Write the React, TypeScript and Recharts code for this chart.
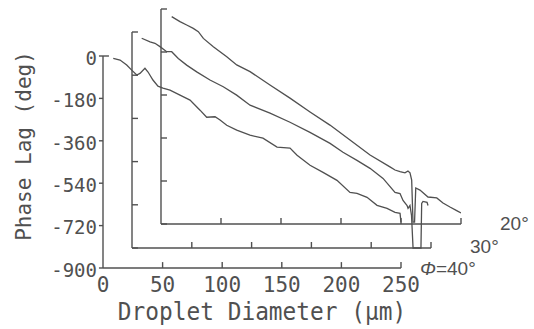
import { LineChart, Line, XAxis, YAxis, ReferenceLine } from "recharts"

const X_TICKS = [0, 50, 100, 150, 200, 250]
const Y_TICKS = [0, -180, -360, -540, -720, -900]

// phi = 40 deg (front panel)
const DIAM_40 = [8.6, 14.3, 19.9, 24.1, 28.3, 31.0, 35.2, 37.8, 41.9, 46.1, 50.3, 56.2, 64.6, 73.0, 81.4, 87.0, 94.0, 98.2, 103.8, 112.2, 123.3, 134.2, 146.0, 156.9, 162.8, 173.7, 184.6, 196.3, 207.2, 213.1, 221.5, 229.9, 238.3, 245.0, 249.2, 250]
const PHASE_40 = [-10, -17, -38, -60, -81, -74, -52, -68, -102, -128, -136, -145, -166, -187, -230, -260, -258, -272, -294, -315, -336, -349, -387, -391, -421, -464, -494, -528, -579, -583, -600, -634, -647, -664, -668, -706]

// phi = 30 deg (middle panel)
const DIAM_30 = [8.1, 15.1, 19.2, 23.4, 29.0, 33.2, 38.7, 45.7, 54.1, 65.2, 76.3, 87.5, 98.7, 115.4, 132.1, 148.8, 165.6, 176.4, 188.1, 199.0, 209.9, 219.9, 224.1, 226.6, 230.0, 230.8, 232.4, 233.7, 235.0, 241.6, 242.2, 243.3, 246.7, 247.5]
const PHASE_30 = [-26, -41, -47, -61, -82, -82, -110, -138, -166, -200, -228, -263, -305, -338, -376, -418, -464, -501, -535, -568, -610, -668, -673, -702, -723, -735, -723, -764, -900, -900, -714, -706, -710, -723]

// phi = 20 deg (back panel)
const DIAM_20 = [8.9, 15.8, 21.4, 26.9, 31.1, 35.3, 43.6, 54.8, 63.1, 74.2, 90.8, 107.5, 124.2, 140.8, 157.5, 174.2, 190.8, 195.0, 199.2, 203.3, 205.8, 207.5, 208.9, 210.0, 211.3, 212.3, 215.8, 222.5, 229.8, 235.0, 240.8, 246.4, 250]
const PHASE_20 = [-32, -53, -67, -81, -95, -123, -158, -200, -234, -262, -318, -373, -431, -486, -548, -611, -661, -674, -681, -686, -678, -686, -716, -892, -892, -749, -758, -787, -791, -812, -829, -844, -854]

const W = 534
const H = 329
const INK = "#505050"
const MONO = "DejaVu Sans Mono"
const SANS = "Liberation Sans"

const toRows = (d: number[], p: number[]) => d.map((v, i) => ({ d: v, phase: p[i] }))

// one shared plot box (x 103..461, y 9..268); each panel gets its own pair of
// axes whose domains are stretched so the panel's 0..250 / -900..0 frame lands
// at its staggered spot in the box. Front panel first so its visible axes sit
// right on the box edges.
const PANELS = [
  { id: "f", rows: toRows(DIAM_40, PHASE_40), xDomain: [0, 300.34], yDomain: [-900, 199.5] },
  { id: "m", rows: toRows(DIAM_30, PHASE_30), xDomain: [-24.25, 275.08], yDomain: [-983.33, 95.83] },
  { id: "b", rows: toRows(DIAM_20, PHASE_20), xDomain: [-48.33, 250], yDomain: [-1084.19, 0] },
]

const X_TICK_LEN = 25 // deg, ~6px upward
const Y_TICK_LEN = 5 // um, ~6px to the right
const FRONT_Y_TICK_LEN = 3.4 // um, ~4px to the left (outside)

// axis frame of a panel: the front one sits on the edge of the domain, so
// overflow has to stay visible or recharts drops the segments
function frame(id: string) {
  const seg = (key: string, x1: number, y1: number, x2: number, y2: number) => (
    <ReferenceLine
      key={`${id}-${key}`}
      xAxisId={id}
      yAxisId={id}
      segment={[{ x: x1, y: y1 }, { x: x2, y: y2 }]}
      ifOverflow="visible"
      stroke={INK}
      strokeWidth={1.4}
    />
  )
  const items = [seg("xa", 0, -900, 250, -900), seg("ya", 0, 0, 0, -900)]
  X_TICKS.filter((t) => t > 0).forEach((t) => items.push(seg(`xt${t}`, t, -900, t, -900 + X_TICK_LEN)))
  if (id === "f") {
    items.push(seg("yt0", 0, 0, Y_TICK_LEN, 0))
    Y_TICKS.forEach((t) => items.push(seg(`ytl${t}`, 0, t, -FRONT_Y_TICK_LEN, t)))
  } else {
    Y_TICKS.forEach((t) => items.push(seg(`yt${t}`, 0, t, Y_TICK_LEN, t)))
  }
  return items
}

const label = (style: React.CSSProperties, text: React.ReactNode) => (
  <div style={{ position: "absolute", whiteSpace: "nowrap", color: INK, ...style }}>{text}</div>
)

export default function App() {
  return (
    <div style={{ position: "absolute", left: 0, top: 0, width: W, height: H, background: "#fff" }}>
      <LineChart width={W} height={H} margin={{ top: 9, right: 73, bottom: 0, left: 0 }}>
        {PANELS.map((p) => (
          <XAxis
            key={`x-${p.id}`}
            xAxisId={p.id}
            type="number"
            dataKey="d"
            domain={p.xDomain}
            allowDataOverflow
            ticks={X_TICKS}
            hide={p.id !== "f"}
            height={p.id === "f" ? 61 : 0}
            axisLine={false}
            tickLine={false}
            tickSize={0}
            tickMargin={9}
            tick={{ fontFamily: MONO, fontSize: 21, fill: INK }}
          />
        ))}
        {PANELS.map((p) => (
          <YAxis
            key={`y-${p.id}`}
            yAxisId={p.id}
            type="number"
            domain={p.yDomain}
            allowDataOverflow
            ticks={Y_TICKS}
            hide={p.id !== "f"}
            width={p.id === "f" ? 103 : 0}
            axisLine={false}
            tickLine={false}
            tickSize={4}
            tickMargin={2}
            tick={{ fontFamily: MONO, fontSize: 19, fill: INK, dy: 2 }}
          />
        ))}
        {PANELS.map((p) => frame(p.id))}
        {PANELS.map((p) => (
          <Line
            key={`l-${p.id}`}
            xAxisId={p.id}
            yAxisId={p.id}
            data={p.rows}
            type="linear"
            dataKey="phase"
            stroke={INK}
            strokeWidth={1.3}
            dot={false}
            isAnimationActive={false}
          />
        ))}
      </LineChart>
      {label(
        {
          left: -76, top: 134, width: 200, height: 24, lineHeight: "24px", textAlign: "center",
          fontFamily: MONO, fontSize: 21, transform: "rotate(-90deg)",
        },
        "Phase Lag (deg)"
      )}
      {label(
        {
          left: 62, top: 298, width: 400, lineHeight: "28px", textAlign: "center",
          fontFamily: MONO, fontSize: 24, transform: "scaleX(0.95)",
        },
        "Droplet Diameter (μm)"
      )}
      {label({ left: 500, top: 214, lineHeight: "19px", fontFamily: SANS, fontSize: 19 }, "20°")}
      {label({ left: 470, top: 237, lineHeight: "19px", fontFamily: SANS, fontSize: 19 }, "30°")}
      {label(
        { left: 420, top: 259, lineHeight: "19px", fontFamily: SANS, fontSize: 19 },
        <>
          <i>Φ</i>=40°
        </>
      )}
    </div>
  )
}
